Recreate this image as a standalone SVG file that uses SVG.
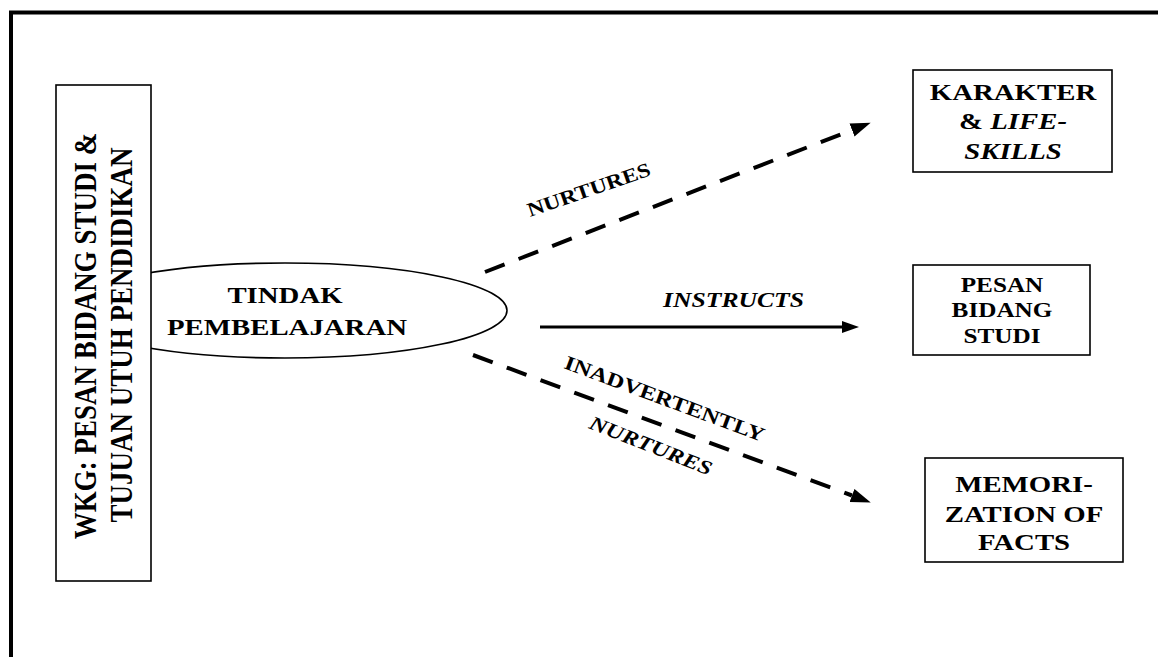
<svg xmlns="http://www.w3.org/2000/svg" width="1158" height="657" viewBox="0 0 1158 657">
<style>
.t{font-family:"Liberation Serif","Times New Roman",serif;font-weight:bold;fill:#000;}
.box{fill:#fff;stroke:#000;stroke-width:1.6;}
.dash{fill:none;stroke:#000;stroke-width:4;stroke-dasharray:21 15;}
.solid{fill:none;stroke:#000;stroke-width:3;}
</style>
<defs>
<marker id="ah" markerUnits="userSpaceOnUse" markerWidth="22" markerHeight="16" refX="0" refY="7" orient="auto">
<path d="M0,0 L20,7 L0,14 z" fill="#000"/>
</marker>
<marker id="ah2" markerUnits="userSpaceOnUse" markerWidth="20" markerHeight="14" refX="0" refY="6" orient="auto">
<path d="M0,0 L17,6 L0,12 z" fill="#000"/>
</marker>
</defs>
<rect x="0" y="0" width="1158" height="657" fill="#fff"/>
<rect id="frame" x="11" y="12.5" width="1200" height="700" fill="none" stroke="#000" stroke-width="4"/>

<g id="ellipse-node">
<ellipse cx="285" cy="310.5" rx="222" ry="47.5" fill="#fff" stroke="#000" stroke-width="1.6"/>
</g>

<g id="left-box">
<rect class="box" x="56" y="85" width="95" height="496"/>
<text class="t" font-size="27" text-anchor="middle" transform="translate(96,336) scale(1.2,1) rotate(-90)">WKG: PESAN BIDANG STUDI &amp;</text>
<text class="t" font-size="27" text-anchor="middle" transform="translate(132,335) scale(1.2,1) rotate(-90)">TUJUAN UTUH PENDIDIKAN</text>
</g>

<g id="tindak">
<text class="t" font-size="24" text-anchor="middle" transform="translate(285,303) scale(1.2,1)">TINDAK</text>
<text class="t" font-size="24" text-anchor="middle" transform="translate(287,335) scale(1.2,1)">PEMBELAJARAN</text>
</g>

<g id="karakter">
<rect class="box" x="913" y="70" width="199" height="102"/>
<text class="t" font-size="24" text-anchor="middle" transform="translate(1013,100) scale(1.2,1)">KARAKTER</text>
<text class="t" font-size="24" text-anchor="middle" transform="translate(1013,129) scale(1.2,1)">&amp; <tspan font-style="italic">LIFE-</tspan></text>
<text class="t" font-size="24" font-style="italic" text-anchor="middle" transform="translate(1013,159) scale(1.2,1)">SKILLS</text>
</g>

<g id="pesan">
<rect class="box" x="913" y="265" width="177" height="90"/>
<text class="t" font-size="21" text-anchor="middle" transform="translate(1002,292) scale(1.2,1)">PESAN</text>
<text class="t" font-size="21" text-anchor="middle" transform="translate(1002,317) scale(1.2,1)">BIDANG</text>
<text class="t" font-size="21" text-anchor="middle" transform="translate(1002,343) scale(1.2,1)">STUDI</text>
</g>

<g id="memorization">
<rect class="box" x="925" y="458" width="198" height="104"/>
<text class="t" font-size="24" text-anchor="middle" transform="translate(1024,492) scale(1.2,1)">MEMORI-</text>
<text class="t" font-size="24" text-anchor="middle" transform="translate(1024,522) scale(1.2,1)">ZATION OF</text>
<text class="t" font-size="24" text-anchor="middle" transform="translate(1024,550) scale(1.2,1)">FACTS</text>
</g>

<g id="connectors">
<path class="dash" d="M485,272 L852,130" marker-end="url(#ah)"/>
<path class="solid" d="M540,327 L842,327" marker-end="url(#ah2)"/>
<path class="dash" d="M473,355 L852,495.5" marker-end="url(#ah)"/>
<text class="t" font-size="20" transform="translate(530,217) rotate(-19)" textLength="129" lengthAdjust="spacingAndGlyphs">NURTURES</text>
<text class="t" font-size="20" font-style="italic" x="663" y="307" textLength="141" lengthAdjust="spacingAndGlyphs">INSTRUCTS</text>
<text class="t" font-size="20" transform="translate(563,368) rotate(20.4)" textLength="212" lengthAdjust="spacingAndGlyphs">INADVERTENTLY</text>
<text class="t" font-size="20" font-style="italic" transform="translate(588,428) rotate(21.5)" textLength="130" lengthAdjust="spacingAndGlyphs">NURTURES</text>
</g>
</svg>
